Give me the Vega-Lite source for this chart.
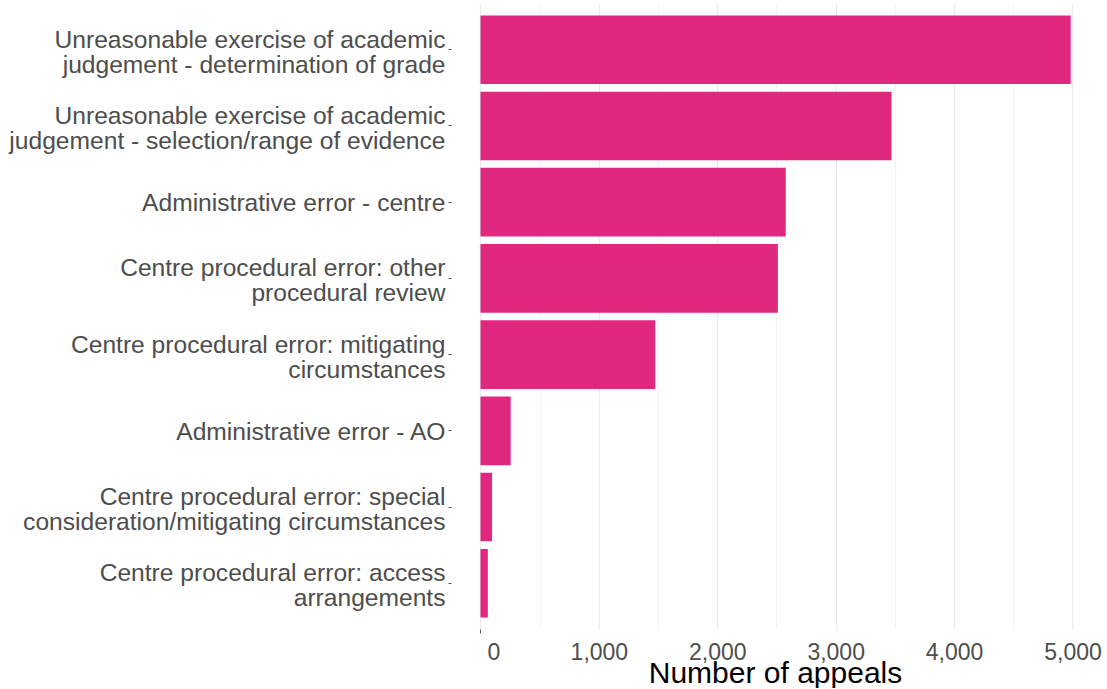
{
  "$schema": "https://vega.github.io/schema/vega-lite/v6.json",
  "width": 648,
  "height": 625,
  "padding": {"left": 8, "top": 4, "right": 6, "bottom": 0},
  "background": "white",
  "config": {"view": {"stroke": null}, "font": "Liberation Sans"},
  "data": {
    "values": [
      {"reason": "Unreasonable exercise of academic|judgement - determination of grade", "appeals": 4985},
      {"reason": "Unreasonable exercise of academic|judgement - selection/range of evidence", "appeals": 3472},
      {"reason": "Administrative error - centre", "appeals": 2578},
      {"reason": "Centre procedural error: other|procedural review", "appeals": 2512},
      {"reason": "Centre procedural error: mitigating|circumstances", "appeals": 1476},
      {"reason": "Administrative error - AO", "appeals": 255},
      {"reason": "Centre procedural error: special|consideration/mitigating circumstances", "appeals": 98},
      {"reason": "Centre procedural error: access|arrangements", "appeals": 62}
    ]
  },
  "mark": {"type": "bar", "color": "#E0287F"},
  "encoding": {
    "y": {
      "field": "reason",
      "type": "nominal",
      "sort": "-x",
      "scale": {"paddingInner": 0.1, "paddingOuter": 0.15},
      "axis": {
        "title": null,
        "labelExpr": "split(datum.label, '|')",
        "labelFontSize": 24.6,
        "labelColor": "#4d4d4d",
        "labelLineHeight": 25,
        "labelLimit": 700,
        "labelPadding": 3,
        "labelOffset": {"condition": {"test": "indexof(datum.label, '|') >= 0", "value": -9}, "value": 2},
        "domain": false,
        "grid": false,
        "ticks": true,
        "tickSize": 3,
        "tickColor": "#555555",
        "tickWidth": 1
      }
    },
    "x": {
      "field": "appeals",
      "type": "quantitative",
      "scale": {"domain": [-249, 5224], "nice": false, "zero": false},
      "axis": {
        "values": [0, 500, 1000, 1500, 2000, 2500, 3000, 3500, 4000, 4500, 5000],
        "labelExpr": "datum.value % 1000 === 0 ? format(datum.value, ',') : ''",
        "labelFontSize": 23,
        "labelColor": "#4d4d4d",
        "labelPadding": 8,
        "labelOffset": {"condition": {"test": "datum.value === 0", "value": 13}, "value": 0},
        "domain": false,
        "grid": true,
        "gridColor": "#ebebeb",
        "gridWidth": {"condition": {"test": "datum.value % 1000 === 0", "value": 1.2}, "value": 0.6},
        "ticks": true,
        "tickSize": 4,
        "tickColor": "#555555",
        "tickWidth": {"condition": {"test": "datum.value === 0", "value": 1}, "value": 0},
        "title": "Number of appeals",
        "titleFontSize": 30,
        "titleFontWeight": "normal",
        "titleColor": "#000000",
        "titlePadding": -6
      }
    }
  }
}
